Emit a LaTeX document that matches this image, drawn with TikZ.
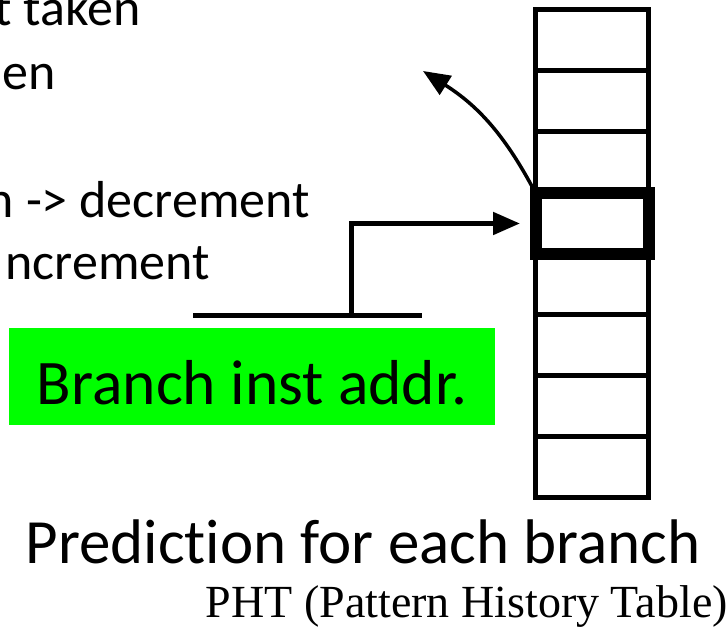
\documentclass[tikz,border=0pt]{standalone}
\usepackage{fontspec}
\setmainfont{Carlito}[Ligatures={TeX,NoCommon}]
\newfontfamily\phtfont{Liberation Serif}
\usetikzlibrary{positioning,arrows.meta}
\definecolor{addrgreen}{RGB}{0,255,0}

\begin{document}
\begin{tikzpicture}[x=1pt, y=1pt, >={Triangle[length=27pt,width=22pt]}]
  \tikzstyle{cell}=[rectangle,draw,line width=5pt,minimum width=113pt,minimum height=61pt,inner sep=0pt,outer sep=0pt]
  \tikzstyle{hlbox}=[cell,line width=12pt]
  \tikzstyle{txt}=[inner sep=0pt,font=\fontsize{52}{62}\selectfont]
  \useasboundingbox (0,0) rectangle (728,628);
  \clip (0,0) rectangle (728,628);

  \node[txt,anchor=base east] (nt) at (141,602) {t taken};
  \node[txt,anchor=base east] (tk) at (56,538) {en};
  \node[txt,anchor=base east] (dec) at (310,410) {n -> decrement};
  \node[txt,anchor=base east] (inc) at (210,348) {ncrement};

  \node[cell] (c1) at (592,587.5) {};
  \foreach \i [count=\j from 2] in {1,...,7}
    \node[cell,below=0pt of c\i] (c\j) {};
  \node[hlbox] (hl) at (c4) {};

  \node[fill=addrgreen,minimum width=486pt,minimum height=97pt,inner sep=0pt,text height=57pt,text depth=0pt,font=\fontsize{63.5}{76}\selectfont] (addr) at (252,251.5) {Branch inst addr.};

  \coordinate (barL) at (193,312);
  \coordinate (barR) at (422,312);
  \coordinate (barM) at (351,312);
  \coordinate (tip) at (423,557);
  \draw[line width=5pt] (barL) -- (barR);
  \draw[->,line width=5pt,shorten >=15.5pt] (barM) |- (hl.west);
  \draw[->,line width=3.5pt] (hl.north west) to[bend right=15] (tip);

  \node[anchor=base,inner sep=0pt,font=\fontsize{63}{75}\selectfont] (pred) at (363,64) {Prediction for each branch};
  \node[anchor=base east,inner sep=0pt,font=\phtfont\fontsize{46}{55}\selectfont] (pht) at (728,10) {PHT (Pattern History Table)};
\end{tikzpicture}
\end{document}
